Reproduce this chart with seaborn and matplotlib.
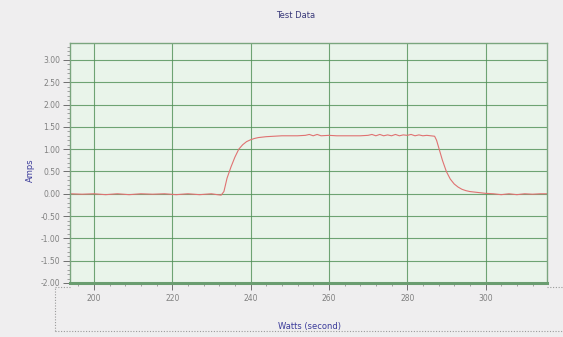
import matplotlib
matplotlib.use("Agg")
import matplotlib.pyplot as plt
from matplotlib.lines import Line2D
from matplotlib.ticker import MultipleLocator, FormatStrFormatter
import seaborn as sns
import pandas as pd

# ---- data ----
time_s = [194, 197, 200, 203, 206, 209, 212, 215, 218, 221, 224, 227, 230, 231.5,
          232.5, 233.2, 234, 235, 236, 237, 238, 239, 240, 241, 242, 244, 246, 248,
          250, 252, 254, 255, 256, 257, 258, 260, 262, 264, 266, 268, 270, 271, 272,
          273, 274, 275, 276, 277, 278, 279, 280, 281, 282, 283, 284, 285, 286, 287,
          287.5, 288, 288.5, 289, 290, 291, 292, 293, 294, 295, 296, 298, 300, 302,
          304, 306, 308, 310, 312, 314, 316]
amps = [0.00, -0.01, 0.00, -0.02, 0.00, -0.02, 0.00, -0.01, 0.00, -0.02, 0.00, -0.02, 0.00, -0.02,
        -0.03, 0.05, 0.35, 0.60, 0.82, 1.00, 1.10, 1.17, 1.21, 1.24, 1.26, 1.28, 1.29, 1.30,
        1.30, 1.30, 1.31, 1.33, 1.30, 1.33, 1.30, 1.31, 1.30, 1.30, 1.30, 1.30, 1.31, 1.33, 1.30,
        1.33, 1.30, 1.32, 1.30, 1.33, 1.30, 1.32, 1.31, 1.33, 1.30, 1.32, 1.30, 1.31, 1.30, 1.29,
        1.20, 1.05, 0.90, 0.75, 0.50, 0.33, 0.22, 0.15, 0.10, 0.07, 0.05, 0.03, 0.01, 0.00,
        -0.02, 0.00, -0.02, 0.00, -0.01, 0.00, 0.00]

title = "Test Data"
xlabel = "Watts (second)"
ylabel = "Amps"

df = pd.DataFrame({"time": time_s, "amps": amps})

fig = plt.figure(figsize=(5.63, 3.37), dpi=100, facecolor="#efeeef")
ax = fig.add_axes([70/563, 1-283/337, (547-70)/563, (283-43)/337])
ax.set_facecolor("#e9f4ea")

sns.lineplot(data=df, x="time", y="amps", ax=ax, color="#e07272", linewidth=0.8)

ax.set_xlim(193.9, 315.7)
ax.set_ylim(-2.0, 3.38)

grid_c = "#4f8f55"
ax.xaxis.set_major_locator(MultipleLocator(20))
ax.xaxis.set_minor_locator(MultipleLocator(4))
ax.yaxis.set_major_locator(MultipleLocator(0.5))
ax.yaxis.set_minor_locator(MultipleLocator(0.1))
ax.yaxis.set_major_formatter(FormatStrFormatter("%.2f"))
ax.grid(True, which="major", color=grid_c, linewidth=0.8, alpha=0.8)

ax.tick_params(axis="both", which="major", labelsize=5.5, labelcolor="#808080",
               color="#707070", length=5, width=0.7, pad=2)
ax.tick_params(axis="both", which="minor", color="#808080", length=2.5, width=0.5)
ax.tick_params(axis="x", which="both", pad=3)

for side in ["top", "right", "left"]:
    ax.spines[side].set_color("#7aa57e")
    ax.spines[side].set_linewidth(1.0)
ax.spines["bottom"].set_color("#6a9d70")
ax.spines["bottom"].set_linewidth(2.2)

ax.set_xlabel("")
ax.set_ylabel("")
fig.text(0.525, 1-15/337, title, ha="center", va="center", fontsize=6, color="#3a3a7a")
fig.text(30/563, 1-170/337, ylabel, ha="center", va="center", rotation=90,
         fontsize=6, color="#3a3a9a")
fig.text(310/563, 1-327/337, xlabel, ha="center", va="center", fontsize=6, color="#3a3a9a")

# dotted outer frame lines
fig.add_artist(Line2D([55/563, 1.0], [1-331/337, 1-331/337], transform=fig.transFigure,
                      color="#9a9a9a", linestyle=(0, (1, 1.5)), linewidth=0.8))
fig.add_artist(Line2D([55/563, 55/563], [1-331/337, 1-287/337], transform=fig.transFigure,
                      color="#9a9a9a", linestyle=(0, (1, 1.5)), linewidth=0.8))
fig.add_artist(Line2D([55/563, 70/563], [1-287/337, 1-287/337], transform=fig.transFigure,
                      color="#9a9a9a", linestyle=(0, (1, 1.5)), linewidth=0.8))
fig.add_artist(Line2D([547/563, 1.0], [1-287/337, 1-287/337], transform=fig.transFigure,
                      color="#9a9a9a", linestyle=(0, (1, 1.5)), linewidth=0.8))

fig.savefig("out.png", dpi=100, facecolor=fig.get_facecolor())
